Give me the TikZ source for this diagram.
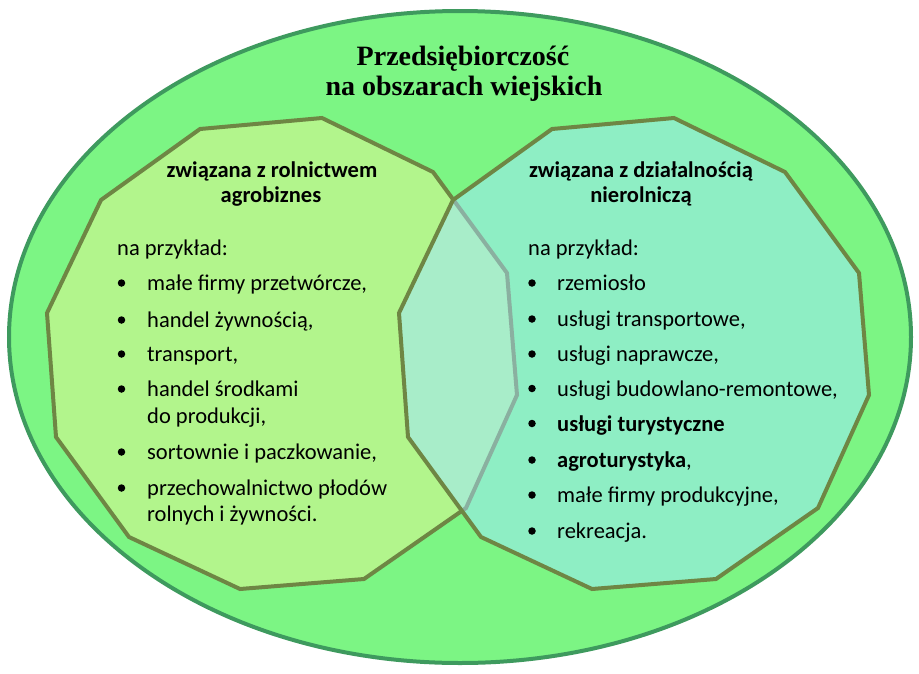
\documentclass[tikz,border=0pt]{standalone}
\usepackage{fontspec}
\setmainfont{Carlito}
\newfontfamily\titlefont{Liberation Serif}
\definecolor{ellfill}{HTML}{7CF584}
\definecolor{elldraw}{HTML}{3E9A5E}
\definecolor{leftfill}{HTML}{B2F58C}
\definecolor{rightfill}{HTML}{8EEEC4}
\definecolor{lensfill}{HTML}{A8EDC9}
\definecolor{polydraw}{HTML}{6E8644}
\definecolor{hiddendraw}{HTML}{8AB0A0}
\tikzset{
  txt/.style={anchor=base west, inner sep=0pt, font=\fontsize{22.5}{26}\selectfont},
  hdr/.style={anchor=base, inner sep=0pt, font=\fontsize{22.5}{26}\selectfont\bfseries},
  ttl/.style={anchor=base, inner sep=0pt, font=\titlefont\fontsize{28}{32}\selectfont\bfseries},
  bul/.style={circle, fill=black, inner sep=0pt, minimum size=7.5pt},
  poly/.style={draw=polydraw, line width=4pt, line join=miter},
}
\begin{document}
\begin{tikzpicture}[x=1pt,y=-1pt]
\useasboundingbox (0,0) rectangle (919,673);
% outer ellipse
\path[fill=ellfill, draw=elldraw, line width=4pt] (460,337) ellipse [x radius=451, y radius=326];
% polygon shapes
\def\rightpoly{(552,129) -- (674,118) -- (785,172) -- (859,273) -- (869,395) -- (818,508) -- (716,579) -- (592,589) -- (481,537) -- (408,437) -- (399,313) -- (453,200) -- cycle}
\def\leftpoly{(200,129) -- (322,118) -- (433,172) -- (507,273) -- (517,395) -- (466,508) -- (364,579) -- (240,589) -- (129,537) -- (56,437) -- (47,313) -- (101,200) -- cycle}
\path[fill=leftfill, poly] \leftpoly;
\path[fill=rightfill] \rightpoly;
\begin{scope}
  \clip \rightpoly;
  \path[fill=lensfill, draw=hiddendraw, line width=4pt] \leftpoly;
\end{scope}
\path[poly] \rightpoly;
% title
\node[ttl] (t1) at (463,65) {Przedsiębiorczość};
\node[ttl] (t2) at (464,95) {na obszarach wiejskich};
% left
\node[hdr] (lh1) at (272,177) {związana z rolnictwem};
\node[hdr] (lh2) at (271,202) {agrobiznes};
\node[txt] (lnp) at (117,255) {na przykład:};
\foreach \y/\t [count=\i] in {283/{małe firmy przetwórcze,}, 320/{handel żywnością,}, 354/{transport,}, 389/{handel środkami}, 452/{sortownie i paczkowanie,}, 488/{przechowalnictwo płodów}}{
  \node[bul] (lb\i) at (121.5,\y) {};
  \node[txt] (li\i) at (147,\y+7.5) {\t};
}
\node[txt] (li4b) at (147,423) {do produkcji,};
\node[txt] (li6b) at (147,521.5) {rolnych i żywności.};
% right
\node[hdr] (rh1) at (641,177) {związana z działalnością};
\node[hdr] (rh2) at (641,202) {nierolniczą};
\node[txt] (rnp) at (528,255) {na przykład:};
\foreach \y/\t [count=\i] in {283/{rzemiosło}, 319/{usługi transportowe,}, 354/{usługi naprawcze,}, 388.5/{usługi budowlano-remontowe,}, 423.5/{\textbf{usługi turystyczne}}, 460/{\textbf{agroturystyka},}, 495/{małe firmy produkcyjne,}, 531/{rekreacja.}}{
  \node[bul] (rb\i) at (532,\y) {};
  \node[txt] (ri\i) at (557,\y+7.5) {\t};
}
\end{tikzpicture}
\end{document}
